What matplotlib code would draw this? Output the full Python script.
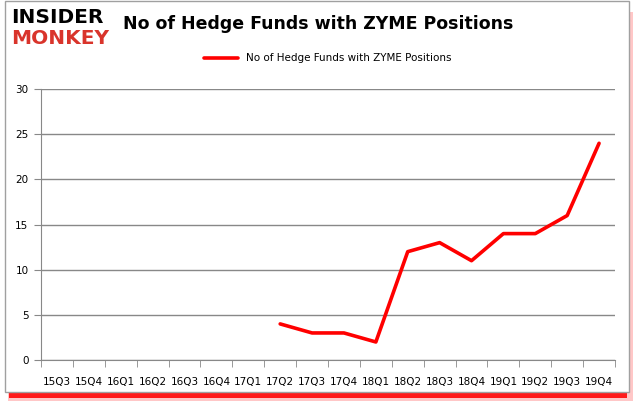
import matplotlib.pyplot as plt
from matplotlib.patches import Rectangle

quarters = ["15Q3", "15Q4", "16Q1", "16Q2", "16Q3", "16Q4", "17Q1", "17Q2", "17Q3",
            "17Q4", "18Q1", "18Q2", "18Q3", "18Q4", "19Q1", "19Q2", "19Q3", "19Q4"]
data_quarters = ["17Q2", "17Q3", "17Q4", "18Q1", "18Q2", "18Q3", "18Q4", "19Q1",
                 "19Q2", "19Q3", "19Q4"]
hedge_funds = [4, 3, 3, 2, 12, 13, 11, 14, 14, 16, 24]
yticks = [0, 5, 10, 15, 20, 25, 30]
series_name = "No of Hedge Funds with ZYME Positions"

fig = plt.figure(figsize=(6.36, 4.05), dpi=100)

# frame with red drop shadow: faint on the right, solid along the bottom
fig.patches.append(Rectangle((0.012, 0.010), 0.983, 0.96, transform=fig.transFigure,
                             facecolor="#ffb0b0", edgecolor="none", alpha=0.7, zorder=-4))
fig.patches.append(Rectangle((0.014, 0.017), 0.972, 0.05, transform=fig.transFigure,
                             facecolor="#ff1a1a", edgecolor="none", zorder=-3))
fig.patches.append(Rectangle((0.0079, 0.032), 0.981, 0.965, transform=fig.transFigure,
                             facecolor="white", edgecolor="#a0a0a0", linewidth=1, zorder=-2))

ax = fig.add_axes([0.0645, 0.111, 0.9025, 0.669])
pos = {q: i for i, q in enumerate(quarters)}
xs = [pos[q] for q in data_quarters]
ax.plot(xs, hedge_funds, color="#ff0000", linewidth=2.6, solid_capstyle="round",
        label=series_name, zorder=3)

ax.set_xlim(-0.5, len(quarters) - 0.5)
ax.set_ylim(0, 30)
ax.set_yticks(yticks)
ax.set_xticks(range(len(quarters)))
ax.set_xticklabels(quarters)
ax.set_xticks([i - 0.5 for i in range(len(quarters) + 1)], minor=True)
ax.tick_params(axis="x", which="major", length=0, pad=12, labelsize=7.5)
ax.tick_params(axis="x", which="minor", length=5, color="#888888", direction="out")
ax.tick_params(axis="y", length=5, color="#888888", labelsize=7.5, pad=4)
ax.grid(axis="y", color="#888888", linewidth=1)
for side in ["top", "right"]:
    ax.spines[side].set_visible(False)
ax.spines["left"].set_color("#888888")
ax.spines["bottom"].set_color("#888888")
ax.set_axisbelow(True)

ax.legend(loc="lower center", bbox_to_anchor=(0.5, 1.06), frameon=False,
          fontsize=7.5, handlelength=3.2)

fig.text(0.5, 0.94, series_name, ha="center", va="center", fontsize=12.5,
         fontweight="bold", family="DejaVu Sans")
fig.text(0.018, 0.958, "INSIDER", ha="left", va="center", fontsize=14.5,
         fontweight="heavy", color="black", family="DejaVu Sans")
fig.text(0.018, 0.905, "MONKEY", ha="left", va="center", fontsize=14.5,
         fontweight="heavy", color="#d9342b", family="DejaVu Sans")

fig.savefig("out.png", dpi=100)
